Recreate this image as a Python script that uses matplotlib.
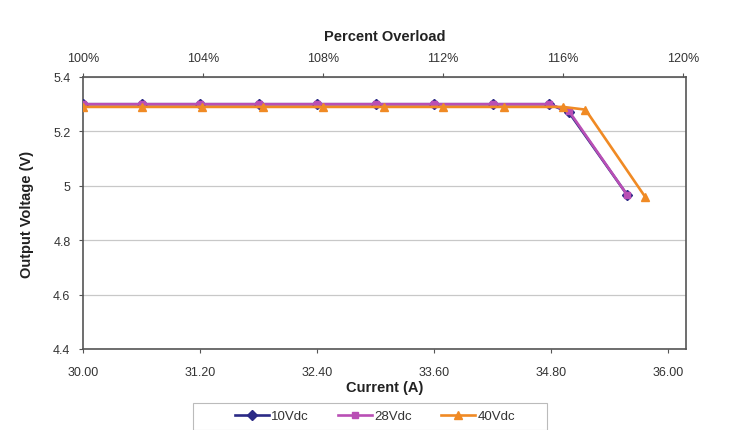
import numpy as np
import matplotlib
matplotlib.use('Agg')
import matplotlib.pyplot as plt
from matplotlib.patches import Rectangle

# Data
current_10 = [30.0, 30.6, 31.2, 31.8, 32.4, 33.0, 33.6, 34.2, 34.78, 34.98, 35.58]
volt_10 = [5.30, 5.30, 5.30, 5.30, 5.30, 5.30, 5.30, 5.30, 5.30, 5.27, 4.965]

current_28 = [30.0, 30.6, 31.2, 31.8, 32.4, 33.0, 33.6, 34.2, 34.78, 34.98, 35.58]
volt_28 = [5.30, 5.30, 5.30, 5.30, 5.30, 5.30, 5.30, 5.30, 5.30, 5.275, 4.965]

current_40 = [30.0, 30.6, 31.22, 31.84, 32.46, 33.08, 33.69, 34.31, 34.92, 35.15, 35.76]
volt_40 = [5.29, 5.29, 5.29, 5.29, 5.29, 5.29, 5.29, 5.29, 5.29, 5.28, 4.96]

x_ticks = [30.0, 31.2, 32.4, 33.6, 34.8, 36.0]
y_ticks = [4.4, 4.6, 4.8, 5.0, 5.2, 5.4]
y_labels = ['4.4', '4.6', '4.8', '5', '5.2', '5.4']
pct_ticks = [100, 104, 108, 112, 116, 120]

plt.rcParams['font.family'] = ['Liberation Sans', 'DejaVu Sans']

W, H = 731, 431
fig = plt.figure(figsize=(W / 100, H / 100), dpi=100)
ax = fig.add_axes([83 / W, 1 - 350 / H, (686 - 83) / W, (350 - 78) / H])

ax.plot(current_10, volt_10, color='#2b2a86', marker='D', markersize=5, lw=1.9, label='10Vdc', zorder=3)
ax.plot(current_28, volt_28, color='#b94fb5', marker='s', markersize=5, lw=1.9, label='28Vdc', zorder=4)
ax.plot(current_40, volt_40, color='#f08a24', marker='^', markersize=6, lw=1.9, label='40Vdc', zorder=5)

ax.set_xlim(30.0, 36.18)
ax.set_ylim(4.4, 5.4)
ax.set_xticks(x_ticks)
ax.set_xticklabels(['%.2f' % v for v in x_ticks])
ax.set_yticks(y_ticks)
ax.set_yticklabels(y_labels)
ax.yaxis.grid(True, color='#c8c8c8', lw=0.9)
ax.set_axisbelow(True)
for s in ax.spines.values():
    s.set_color('#555555')
    s.set_linewidth(1.2)
ax.tick_params(axis='both', labelsize=9, colors='#555555', labelcolor='#333333', length=3)
ax.tick_params(axis='x', pad=9)
ax.tick_params(axis='y', pad=6)

ax.set_xlabel('Current (A)', fontsize=10.5, fontweight='bold', color='#222222', labelpad=2)
ax.set_ylabel('Output Voltage (V)', fontsize=10.5, fontweight='bold', color='#222222', labelpad=14)

# top axis, percent overload
top = ax.twiny()
top.set_xlim(100, 120.1)
top.set_xticks(pct_ticks)
top.set_xticklabels(['%d%%' % p for p in pct_ticks])
top.tick_params(axis='x', labelsize=9, colors='#555555', labelcolor='#333333', length=3, pad=6)
top.set_xlabel('Percent Overload', fontsize=10.5, fontweight='bold', color='#222222', labelpad=9)
for s in top.spines.values():
    s.set_visible(False)

# legend box at the bottom
box = Rectangle((193 / W, 0), (547 - 193) / W, (H - 404) / H,
                transform=fig.transFigure, facecolor='white',
                edgecolor='#bbbbbb', lw=0.8, zorder=-1)
fig.patches.append(box)
leg = fig.legend(*ax.get_legend_handles_labels(), loc='center',
                 bbox_to_anchor=(375 / W, 1 - 417 / H),
                 ncol=3, fontsize=9.5, frameon=False, handlelength=2.6,
                 columnspacing=2.2, handletextpad=0.15)
for t in leg.get_texts():
    t.set_color('#333333')

fig.savefig('out.png', dpi=100)
